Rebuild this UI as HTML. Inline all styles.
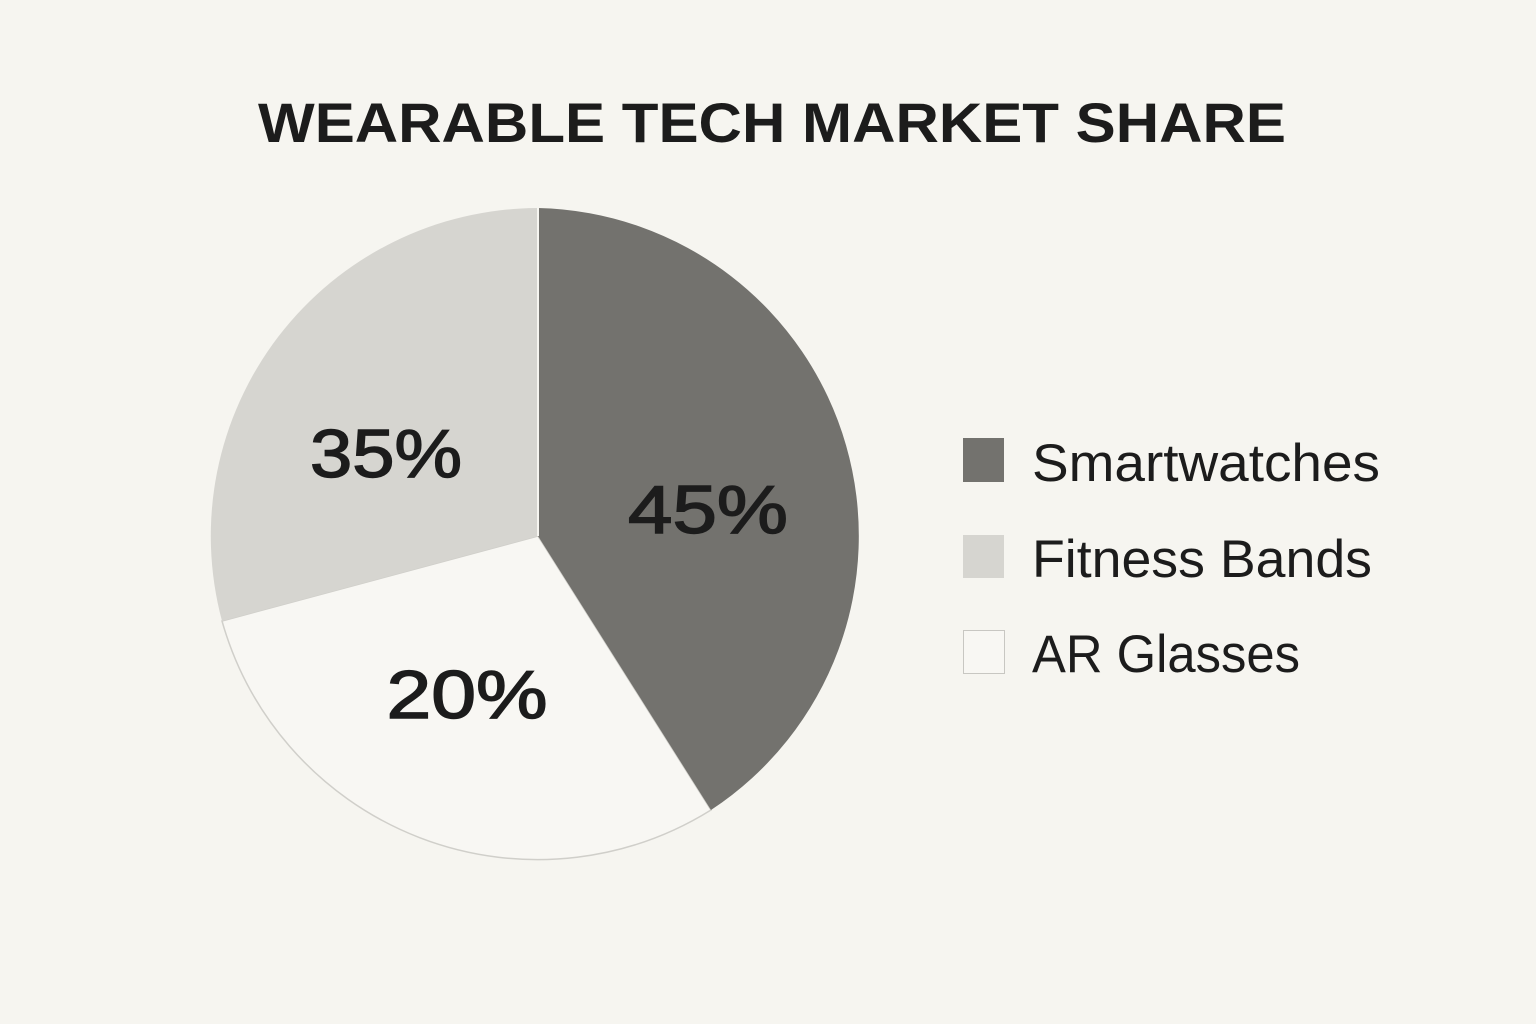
<!DOCTYPE html>
<html><head><style>html,body{margin:0;padding:0;background:#f6f5f0;}svg{display:block}</style></head>
<body>
<svg width="1536" height="1024" viewBox="0 0 1536 1024" xmlns="http://www.w3.org/2000/svg" font-family="Liberation Sans, sans-serif">
<rect width="1536" height="1024" fill="#f6f5f0"/>
<text x="772" y="142" text-anchor="middle" font-size="56" font-weight="bold" fill="#1c1c1c" textLength="1028" lengthAdjust="spacingAndGlyphs">WEARABLE TECH MARKET SHARE</text>
<path d="M538,536 L711,810 A328,328 0 0 1 222,621 Z" fill="#f8f7f3" stroke="#d0cfca" stroke-width="1.5"/>
<path d="M538,536 L222,621 A328,328 0 0 1 538,208 Z" fill="#d6d5d0"/>
<path d="M538,536 L538,208 A328,328 0 0 1 711,810 Z" fill="#73726e"/>
<line x1="538" y1="208" x2="538" y2="536" stroke="#f6f5f0" stroke-width="2"/>
<g font-size="68" fill="#1c1c1c" stroke="#1c1c1c" stroke-width="1.5" text-anchor="middle">
<text x="386" y="477" textLength="152" lengthAdjust="spacingAndGlyphs">35%</text>
<text x="708" y="533" textLength="160" lengthAdjust="spacingAndGlyphs">45%</text>
<text x="467" y="718" textLength="161" lengthAdjust="spacingAndGlyphs">20%</text>
</g>
<rect x="963" y="438" width="41" height="44" fill="#73726e"/>
<rect x="963" y="535" width="41" height="43" fill="#d6d5d0"/>
<rect x="963.5" y="630.5" width="41" height="43" fill="#f8f7f3" stroke="#c8c7c2"/>
<text x="1032" y="481" font-size="53" fill="#1c1c1c" textLength="348" lengthAdjust="spacingAndGlyphs">Smartwatches</text>
<text x="1032" y="577" font-size="53" fill="#1c1c1c" textLength="340" lengthAdjust="spacingAndGlyphs">Fitness Bands</text>
<text x="1032" y="672" font-size="53" fill="#1c1c1c" textLength="268" lengthAdjust="spacingAndGlyphs">AR Glasses</text>
</svg>
</body></html>
